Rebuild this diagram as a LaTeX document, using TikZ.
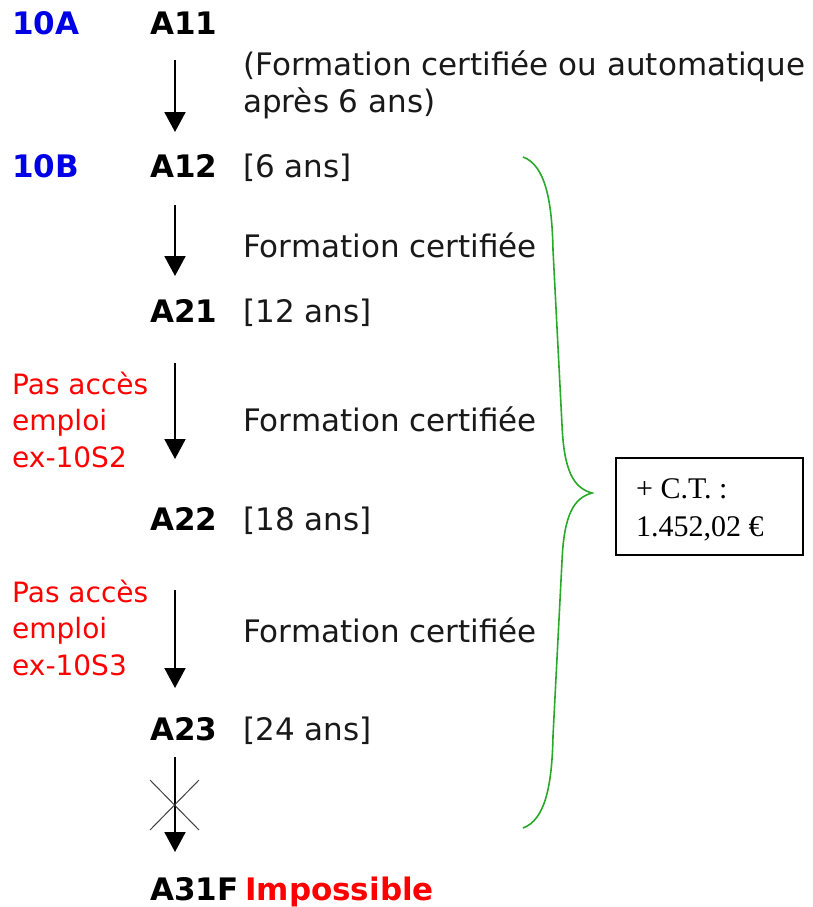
\documentclass[tikz,border=0pt]{standalone}
\usepackage{fontspec}
\setmainfont{DejaVu Sans}
\newfontfamily\boxserif{Liberation Serif}
\usetikzlibrary{arrows.meta}
\definecolor{bluelab}{RGB}{0,0,230}
\definecolor{redlab}{RGB}{255,0,0}
\definecolor{bracegreen}{RGB}{40,170,40}
\definecolor{txt}{RGB}{25,25,25}
\begin{document}
\begin{tikzpicture}[x=1pt,y=-1pt,
  lab/.style={anchor=base west,inner sep=0pt,text=txt,font=\fontsize{31}{37}\selectfont},
  code/.style={anchor=base west,inner sep=0pt,text=black,font=\fontsize{31}{37}\selectfont\bfseries},
  grade/.style={code,text=bluelab},
  note/.style={anchor=base west,inner sep=0pt,align=left,text=redlab,font=\fontsize{28}{36.5}\selectfont},
  flow/.style={-{Triangle[width=21pt,length=20pt]},line width=2pt,black},
  crossline/.style={line width=1pt,black!75},
  bracepath/.style={line width=1.6pt,bracegreen},
  ctbox/.style={draw,line width=1.6pt,black,anchor=north west,minimum width=187pt,minimum height=97pt,inner sep=0pt},
  cttext/.style={anchor=base west,inner sep=0pt,align=left,text=black,font=\boxserif\fontsize{30}{38}\selectfont}
]
\useasboundingbox (0,0) rectangle (812,907);

% rows (multi-line nodes are placed by the baseline of their last line)
\node[grade] (g10a) at (12,35) {10A};
\node[code] (a11) at (150,35) {A11};
\node[lab,align=left] (n1) at (243,112) {(Formation certifiée ou automatique\\après 6 ans)};

\node[grade] (g10b) at (12,177) {10B};
\node[code] (a12) at (150,177) {A12};
\node[lab] (y6) at (243,177) {[6 ans]};

\node[lab] (f2) at (243,257) {Formation certifiée};

\node[code] (a21) at (150,322) {A21};
\node[lab] (y12) at (243,322) {[12 ans]};

\node[note] (p1) at (12,467) {Pas accès\\emploi\\ex-10S2};
\node[lab] (f3) at (243,431) {Formation certifiée};

\node[code] (a22) at (150,530) {A22};
\node[lab] (y18) at (243,530) {[18 ans]};

\node[note] (p2) at (12,675) {Pas accès\\emploi\\ex-10S3};
\node[lab] (f4) at (243,642) {Formation certifiée};

\node[code] (a23) at (150,740) {A23};
\node[lab] (y24) at (243,740) {[24 ans]};

\node[code] (a31f) at (150,900) {A31F};
\node[code,text=redlab] (imp) at (245,900) {Impossible};

% arrows
\coordinate (s1) at (175,60);  \coordinate (e1) at (175,132);
\coordinate (s2) at (175,205); \coordinate (e2) at (175,276);
\coordinate (s3) at (175,363); \coordinate (e3) at (175,459);
\coordinate (s4) at (175,590); \coordinate (e4) at (175,688);
\coordinate (s5) at (175,757); \coordinate (e5) at (175,852);
\draw[flow] (s1) -- (e1);
\draw[flow] (s2) -- (e2);
\draw[flow] (s3) -- (e3);
\draw[flow] (s4) -- (e4);
\draw[flow] (s5) -- (e5);

% cross
\coordinate (x1) at (150,780); \coordinate (x2) at (199,830);
\coordinate (x3) at (199,780); \coordinate (x4) at (150,830);
\draw[crossline] (x1) -- (x2);
\draw[crossline] (x3) -- (x4);

% brace
\coordinate (bt) at (523,157);
\coordinate (tip) at (592,493);
\coordinate (bb) at (523,828);
\draw[bracepath] (bt) .. controls (545,165) and (552,200) .. (553,250)
  -- (562,425) .. controls (564,472) and (574,488) .. (tip)
  .. controls (574,498) and (564,514) .. (562,561)
  -- (553,736) .. controls (552,786) and (545,820) .. (bb);

% box
\node[ctbox] (ct) at (615,457) {};
\node[cttext] (ctt) at (636,536) {+ C.T. :\\1.452,02 €};
\end{tikzpicture}
\end{document}
